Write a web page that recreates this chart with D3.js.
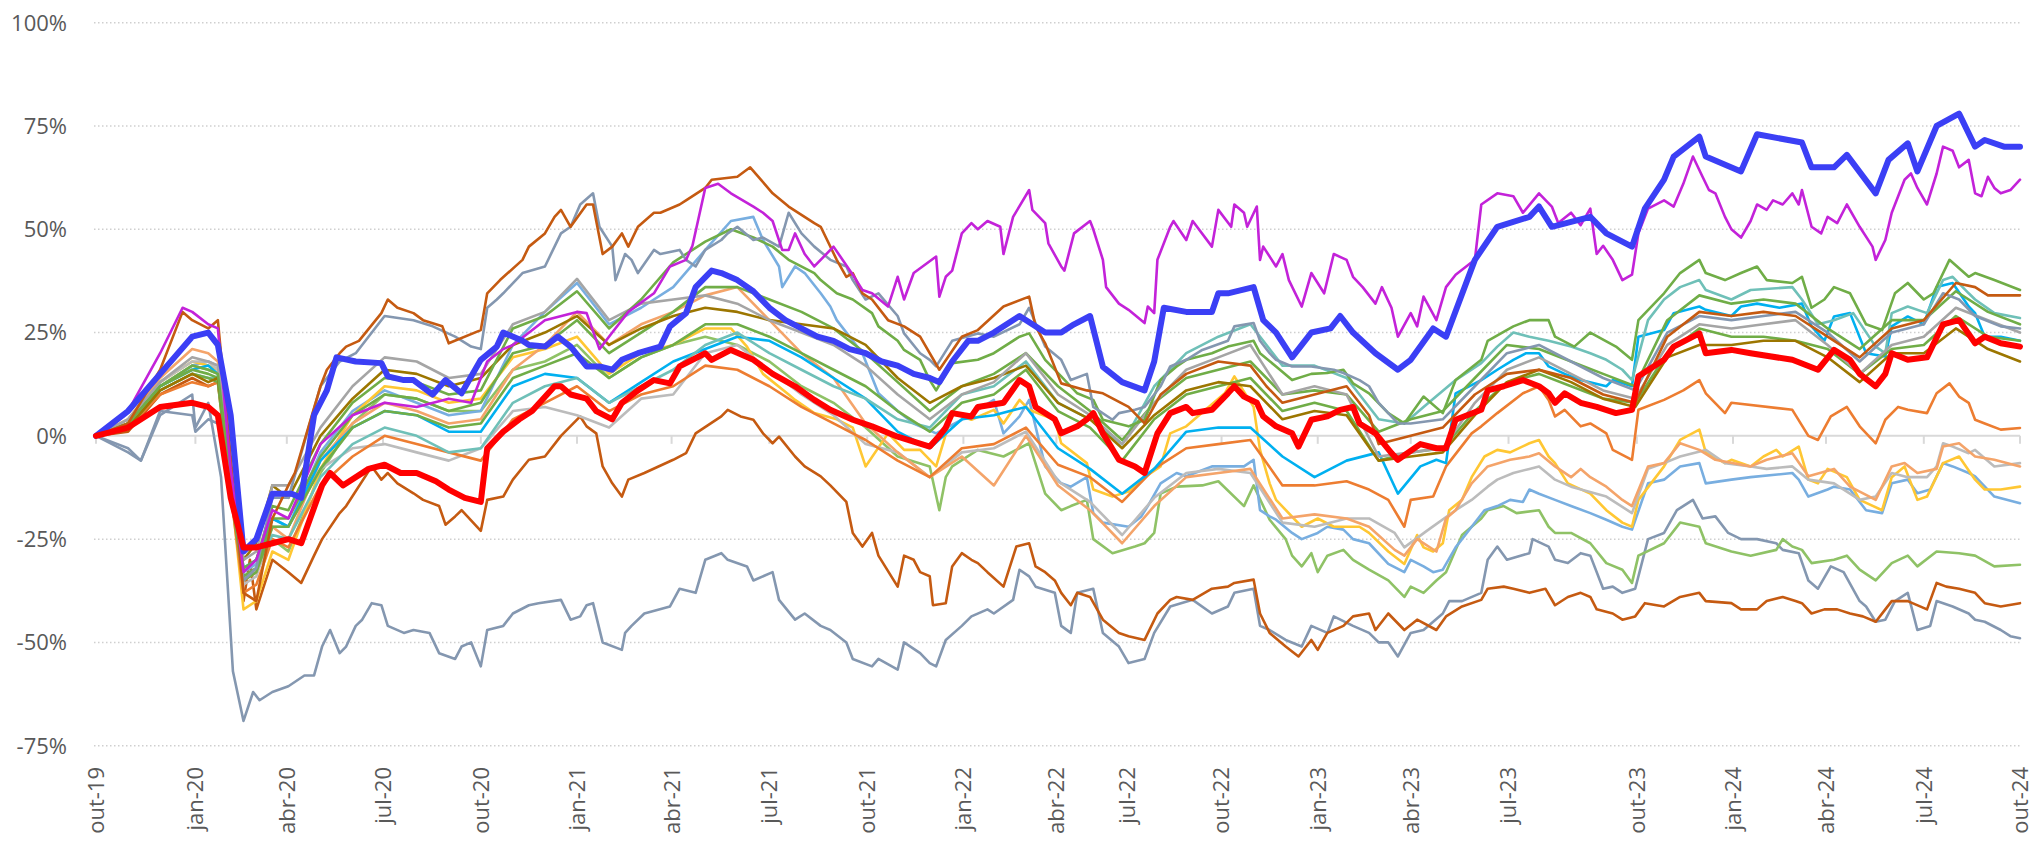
<!DOCTYPE html>
<html>
<head>
<meta charset="utf-8">
<script src="https://cdn.jsdelivr.net/npm/d3@7"></script>
<style>
  body { margin: 0; background: #fff; }
  svg { display: block; font-family: "Open Sans", sans-serif; }
</style>
</head>
<body>
<svg id="chart" width="2034" height="844"></svg>
<script>
// position along the axis, in months of trading sessions from out-19 (one unit = 21 sessions)
var t = [0, 1, 2, 3, 3.5, 3.8, 4.2, 4.6, 5, 5.5, 6, 7, 8, 9, 10, 11, 12, 13, 14, 15,
  16, 17, 18, 19, 20, 21, 22, 23, 24, 25, 26, 27, 28, 29, 30, 31, 32, 33, 34, 35,
  36, 37, 38, 39, 40, 41, 42, 43, 44, 45, 46, 47, 48, 49, 50, 51, 52, 53, 54, 55,
  56, 57, 58, 59, 60];

var tickT = [0, 3.1, 5.95, 8.95, 12, 15, 17.95, 21, 24.05, 27.05, 29.95, 32.15, 35.1, 38.1, 41, 44.05, 48.05, 51.05, 53.95, 57, 60];
var tickLabels = ["out-19", "jan-20", "abr-20", "jul-20", "out-20", "jan-21", "abr-21", "jul-21", "out-21", "jan-22",
  "abr-22", "jul-22", "out-22", "jan-23", "abr-23", "jul-23", "out-23", "jan-24", "abr-24", "jul-24", "out-24"];
var yTicks = [-75, -50, -25, 0, 25, 50, 75, 100];

// series read in more detail: [t, %]
var bluePts = [[0,0],[1,6],[2,15],[3,24],[3.5,25],[3.8,22],[4.2,5],[4.6,-28],[5,-25],[5.5,-14],[6.1,-14],[6.4,-15],
  [6.8,5],[7.2,11],[7.5,19],[8.1,18],[8.9,17.6],[9.1,14.4],[9.6,13.5],[9.9,13.5],[10.5,10],[10.9,13.5],[11.4,10.3],
  [12,18.4],[12.5,21.6],[12.7,25],[13.3,23],[13.5,22],[14,21.6],[14.4,24],[14.8,21.6],[15.3,16.8],[15.7,16.8],[16.1,16],
  [16.4,18.4],[16.9,20],[17.6,21.6],[17.9,26.5],[18.4,29.7],[18.7,36],[19.2,40],[19.5,39.4],[20,37.7],[20.5,35],[21,31],
  [21.5,28],[22,26],[22.5,24],[23,23],[23.5,21],[24,20],[24.5,18],[25,17],[25.5,15],[26,14],[26.3,13],[26.7,18],[27.2,23],
  [27.5,23],[28,25],[28.8,29],[29.6,25],[30.1,25],[30.5,27],[31,29],[31.4,16.7],[32,13],[32.7,11],[33,18],[33.3,31],
  [34,30],[34.8,30],[35,34.5],[35.3,34.5],[36.1,36],[36.4,28],[36.8,25],[37.3,19],[37.9,25],[38.5,26],[38.8,29],[39.2,25],
  [39.9,20],[40.6,16],[41,18.4],[41.7,26],[42.1,24],[43,42.6],[43.7,50.6],[44.7,53],[45,55.5],[45.4,50.6],[46.6,53],
  [47.1,49],[47.9,45.8],[48.3,55],[48.9,62],[49.2,67.6],[50,72.4],[50.2,67.6],[51.3,64],[51.8,73],[53.2,71],[53.5,65],
  [54.2,65],[54.6,68],[55.5,58.7],[55.9,66.8],[56.5,70.8],[56.8,64],[57.4,75],[58.1,78],[58.6,70],[58.9,71.6],[59.5,70],[60,70]];
var redPts = [[0,0],[1,2],[2,7],[3,8],[3.5,7],[3.8,5],[4.2,-15],[4.6,-27],[5,-27],[5.5,-26],[6,-25],[6.4,-26],[7.05,-12],
  [7.3,-9],[7.7,-12],[8.5,-8],[9,-7],[9.5,-9],[10,-9],[10.6,-11],[11,-13],[11.5,-15],[12,-16],[12.2,-3],[12.7,1],[13.2,4],
  [13.6,6],[14.3,12],[14.5,12],[14.8,10],[15.3,9],[15.6,6],[16.1,4],[16.4,8],[16.9,11],[17.4,13.5],[17.9,12.7],[18.2,16.8],
  [19,20],[19.2,18.4],[19.8,20.8],[20.5,18.4],[21.1,15],[21.8,12],[22.4,8.7],[22.9,6.3],[23.6,3.9],[24.2,2.3],[25,-0.2],
  [26,-2.6],[26.3,0],[26.5,2],[26.7,5.5],[27.3,4.7],[27.5,7],[28.3,8],[28.8,13.5],[29.1,12],[29.3,7],[29.9,4],[30.1,0.6],
  [30.6,2.3],[30.9,4],[31.1,5.5],[31.4,0.6],[31.9,-5.8],[32.4,-7.4],[32.7,-9],[33.1,0.6],[33.5,5.5],[34,7],[34.2,5.5],
  [34.8,6.3],[35.3,10.3],[35.5,12],[35.8,9.5],[36.2,8],[36.4,4.7],[36.8,2.3],[37.3,0.6],[37.5,-2.6],[37.9,3.9],[38.4,4.7],
  [38.8,6.3],[39.2,7],[39.4,3],[39.9,0.6],[40.4,-4.2],[40.6,-5.8],[41.3,-2],[41.8,-3],[42.1,-3],[42.4,3.9],[43.2,6.3],
  [43.4,11],[43.9,12],[44.5,13.5],[45,12],[45.3,10.3],[45.5,8],[45.8,10.3],[46.3,8],[46.8,7],[47.4,5.5],[47.9,6.3],
  [48.1,14.4],[48.9,18.4],[49.2,21.6],[50,24.8],[50.2,20],[51,20.8],[51.6,20],[52.9,18.4],[53.7,16],[54.2,20.8],[54.7,18.4],
  [55,15],[55.5,12],[55.8,15],[56,20],[56.5,18.4],[57.1,19],[57.6,27],[58.1,28],[58.6,22.4],[58.9,24],[59.4,22.4],[60,21.6]];
var magentaPts = [[0,0],[1,6],[2,20],[2.7,31],[3,30],[3.5,27],[3.8,26],[4.2,-8],[4.6,-33],[5,-30],[5.5,-18],[6,-20],[7,-2],
  [8,5],[9,8],[10,7],[11,9],[11.7,8],[12.2,18],[12.7,21],[13,22],[14,28],[15,30],[15.3,29.7],[15.7,21],[16.1,25],[16.6,30],
  [17.4,34.5],[17.9,41],[18.4,42.6],[18.6,46],[19,60],[19.4,61],[19.8,58.7],[20.5,55.5],[20.8,54],[21.1,52],[21.4,45],
  [21.6,45],[21.8,49],[22.1,44],[22.4,41],[23,45.8],[23.6,39],[23.9,35.3],[24.2,34.5],[24.7,31.3],[25,38.5],[25.2,33],
  [25.5,39.4],[26.2,43.4],[26.3,33.7],[26.5,38.5],[26.7,40],[27,49],[27.3,51.5],[27.5,50],[27.8,52],[28.2,50.6],[28.3,44],
  [28.6,53],[29.1,59.5],[29.2,54.7],[29.6,51.5],[29.7,46.6],[30.1,41],[30.2,40],[30.5,49],[31,52],[31.1,50],[31.4,42.6],
  [31.5,36],[31.9,32],[32.2,30.5],[32.7,27.3],[32.8,31.3],[33,29.7],[33.1,42.6],[33.5,50.6],[33.6,52],[34,47.4],[34.2,52],
  [34.8,45.8],[35,54.7],[35.4,50.6],[35.5,56],[35.8,54],[35.9,50.6],[36.2,55.5],[36.3,42.6],[36.4,45.8],[36.8,41],[37,44],
  [37.2,37.7],[37.6,31.3],[37.9,39.4],[38.3,34.5],[38.6,44],[39,42.6],[39.2,38.5],[39.5,36],[39.9,32],[40.1,36],[40.4,31],
  [40.6,24],[41,29.7],[41.2,26.5],[41.4,33.7],[41.8,28],[42.1,36],[42.4,39],[43,42.6],[43.2,56],[43.7,58.7],[44.2,58],
  [44.5,54],[45,58.7],[45.4,55.5],[45.6,51.5],[46,54],[46.3,51],[46.6,55],[46.8,44],[47,46],[47.3,42.6],[47.6,37.7],
  [47.9,39],[48.1,49],[48.4,55],[48.9,57],[49.2,55.5],[49.5,61],[49.8,67.6],[50.1,62.7],[50.3,59.5],[50.5,58.7],[50.8,53],
  [51,50],[51.3,48],[51.6,52],[51.8,56],[52.1,54.7],[52.3,57],[52.6,56],[52.9,58.7],[53.1,56],[53.2,59.5],[53.5,50.6],
  [53.8,49],[54,53],[54.3,51.5],[54.6,56],[55,50.6],[55.4,45.8],[55.5,42.6],[55.8,47.4],[56,54],[56.4,62],[56.6,63.5],
  [56.8,60],[57.1,56],[57.4,63.5],[57.6,70],[57.9,69],[58.1,65],[58.4,66.8],[58.6,58.7],[58.8,58],[59,62.7],[59.2,60],
  [59.4,58.7],[59.7,59.5],[60,62]];
var greyBlueBPts = [[0,0],[1,-4],[1.4,-6],[2,5],[3,10],[3.1,2],[3.5,8],[3.9,-10],[4.27,-57],[4.6,-69],[4.9,-62],[5.1,-64],
  [5.5,-62],[6,-60.6],[6.5,-58],[6.8,-58],[7.05,-51],[7.3,-47],[7.6,-52.6],[7.8,-51],[8.1,-46],[8.3,-44.5],[8.6,-40.5],
  [8.9,-41],[9.1,-46],[9.6,-47.7],[9.9,-47],[10.4,-47.7],[10.7,-52.6],[11.2,-54],[11.4,-51],[11.7,-50],[12,-55.8],[12.2,-47],
  [12.7,-46],[13,-43],[13.5,-41],[13.8,-40.5],[14.5,-39.7],[14.8,-44.5],[15.1,-43.7],[15.3,-41],[15.5,-40.5],[15.8,-50],
  [16.4,-51.8],[16.5,-47.7],[16.7,-46],[17.1,-43],[17.9,-41.3],[18.2,-37],[18.7,-38],[19,-30],[19.5,-28.4],[19.7,-30],
  [20.3,-31.6],[20.5,-35],[21.1,-33],[21.3,-39.7],[21.8,-44.5],[22.1,-43],[22.6,-46],[22.9,-47],[23.4,-50],[23.6,-54],
  [24.2,-55.8],[24.4,-54],[25,-56.6],[25.2,-50],[25.7,-52.6],[26,-55],[26.2,-55.8],[26.5,-49.4],[27,-46],[27.3,-43.7],
  [27.8,-42],[28,-43],[28.6,-39.7],[28.8,-32.4],[29.1,-34],[29.3,-36.5],[29.9,-38],[30.1,-46],[30.4,-47.7],[30.6,-38],
  [31.1,-37],[31.4,-47.7],[31.9,-51],[32.2,-55],[32.7,-54],[33,-47.7],[33.5,-41.3],[34.2,-39.7],[34.8,-43],[35.3,-41.3],
  [35.5,-38],[36.1,-37],[36.3,-46],[36.6,-47],[37.1,-49.4],[37.6,-51],[37.9,-46],[38.4,-47.7],[38.6,-43.7],[39.2,-46],
  [39.7,-47.7],[40,-50],[40.3,-50],[40.6,-53.4],[41,-47.7],[41.4,-47],[42,-43],[42.2,-40],[42.6,-40],[43.2,-38],[43.4,-30],
  [43.7,-26.8],[44,-30],[44.7,-28.4],[44.8,-25],[45.3,-26.8],[45.5,-30],[45.9,-30.8],[46.3,-28.4],[46.6,-29],[47,-37],
  [47.3,-36.5],[47.6,-38],[48,-37],[48.4,-25],[48.9,-23.5],[49.3,-18],[49.8,-15.5],[50.1,-20],[50.5,-19.5],[50.9,-23.5],
  [51.3,-25],[51.8,-25],[52.4,-26],[52.6,-27.6],[53.1,-28.4],[53.4,-35],[53.7,-37],[54.1,-31.6],[54.5,-33],[55,-40],
  [55.2,-41.3],[55.5,-45],[55.8,-44.5],[56.1,-40],[56.5,-38],[56.8,-47],[57.2,-46],[57.4,-40],[57.9,-41.3],[58.4,-43],
  [58.6,-44.5],[58.9,-45],[59.4,-47],[59.7,-48.5],[60,-49]];
var darkOrangeBPts = [[0,0],[1,1],[2,10],[2.5,12],[3,14],[3.5,12],[3.8,13],[4.2,-10],[4.6,-40],[4.8,-30],[5,-42],[5.5,-30],
  [6,-33],[6.4,-35.6],[6.8,-29],[7.05,-25],[7.6,-18.7],[7.8,-17],[8.6,-7.4],[8.9,-10.6],[9.1,-9],[9.4,-11.5],[9.9,-13.9],
  [10.2,-15.5],[10.7,-17],[10.9,-21.5],[11.2,-19.5],[11.4,-18],[12,-23],[12.2,-15.5],[12.7,-14.7],[13,-10.6],[13.5,-5.8],
  [14,-5],[14.5,0],[15.1,4.7],[15.3,2.3],[15.6,0.6],[15.8,-7.4],[16.1,-11.5],[16.4,-14.7],[16.6,-10.6],[17.1,-9],[18,-5.8],
  [18.4,-4.2],[18.7,0.6],[19.5,4.7],[19.7,6.3],[20.1,4.7],[20.5,3.9],[20.8,0.6],[21.1,-1.8],[21.3,-0.2],[21.8,-5],[22.1,-7.4],
  [22.6,-9.8],[22.9,-12],[23.4,-16],[23.6,-23.5],[23.9,-26.8],[24.2,-23.5],[24.4,-29],[25,-36.5],[25.2,-29],[25.5,-30],
  [25.7,-33],[26,-34],[26.1,-41],[26.5,-40.5],[26.7,-31.6],[27,-28.4],[27.3,-30],[27.5,-30.8],[27.8,-33],[28.3,-36.5],
  [28.7,-26.8],[29.1,-26],[29.3,-31.6],[29.6,-33],[29.9,-35],[30.1,-38],[30.4,-41],[30.6,-38],[31,-39],[31.4,-44.5],
  [31.9,-47.7],[32.2,-48.5],[32.7,-49.4],[33.1,-43],[33.5,-39.7],[33.7,-39],[34.2,-39.7],[34.8,-37],[35.3,-36.5],[35.5,-35.6],
  [36.1,-34.8],[36.3,-43],[36.6,-47.7],[37.1,-51],[37.5,-53.4],[37.9,-49.4],[38.1,-51.8],[38.4,-47.7],[38.9,-46],[39.2,-43.7],
  [39.7,-43],[39.9,-47],[40.3,-43],[40.8,-47],[41.2,-44.5],[41.8,-47],[42.1,-43.7],[42.6,-41.3],[43.2,-39.7],[43.4,-37],
  [43.9,-36.5],[44.2,-37],[44.7,-38],[45.2,-37],[45.5,-41],[45.9,-39],[46.3,-38],[46.6,-39],[46.8,-42],[47.3,-43],[47.6,-44.5],
  [48,-43.7],[48.3,-40.5],[48.9,-41.3],[49.4,-39],[50,-38],[50.2,-40],[51,-40.5],[51.3,-42],[51.8,-42],[52.1,-40],[52.6,-39],
  [53,-40],[53.2,-40.5],[53.5,-43],[53.9,-42],[54.3,-42],[54.7,-43],[55.1,-43.7],[55.5,-45],[55.8,-42],[56,-40],[56.5,-40],
  [57.1,-42],[57.4,-35.6],[57.7,-36.5],[58.1,-37],[58.6,-38],[58.9,-40.5],[59.4,-41.3],[60,-40.5]];
var darkOrangeAPts = [[0,0],[1,3],[2,16],[2.7,30],[3,28],[3.5,26],[3.8,28],[4.2,-5],[4.6,-38],[5,-40],[5.5,-20],[6,-12],
  [6.2,-9],[7,12],[7.2,16],[7.6,20],[7.8,21.6],[8.2,23],[8.9,29.7],[9.1,33],[9.4,31],[9.9,29.7],[10.2,28],[10.8,26.5],[11,22.4],
  [12,25.6],[12.2,34.5],[12.6,37.7],[13.3,42.6],[13.5,45.8],[14,49],[14.3,53],[14.5,54.7],[14.8,50.6],[15.3,56],[15.5,56],
  [15.8,44],[16.1,45.8],[16.4,49],[16.6,45.8],[16.9,50.6],[17.4,54],[17.6,54],[18.2,56],[18.4,57],[19,60],[19.2,62],[20,62.7],
  [20.4,65],[21.1,58.7],[21.6,55.5],[22.4,51.5],[22.6,50.6],[23.1,42.6],[23.4,38.5],[23.6,39.4],[23.9,34.5],[24.2,33],[24.7,28],
  [25.2,26.5],[25.7,24],[26.3,16],[27,24],[27.5,25.6],[28.3,31.3],[29.1,33.7],[29.3,26.5],[29.6,22.4],[30.1,12.7],[30.9,11],
  [31.4,10.3],[32.2,7],[32.7,3],[33.2,10],[34,15],[35,18],[36,17],[36.5,12],[37,8],[38,10],[39,12],[39.7,5],[40,-2],[41,0],
  [42,2],[43,10],[44,15],[45,16],[46,14],[47,10],[48,8],[49,24],[50,30],[51,29],[52,30],[53,29],[54,24],[55,19],[56,26],
  [57,28],[58,37],[58.6,36],[59,34],[60,34]];
var greyBlueAPts = [[0,0],[1,-3],[1.4,-6],[2,6],[3,5],[3.1,1],[3.5,4],[3.8,3],[4.2,-10],[4.6,-35],[5,-32],[5.5,-15],[6,-15],
  [7,12],[7.6,18],[8.1,20],[9,29],[9.9,28],[10.5,26.5],[11.2,24],[11.7,21.6],[12,21],[12.2,31],[12.5,33],[12.7,34.5],[13.3,39.4],
  [14,41],[14.5,49],[14.8,50.6],[15.1,56],[15.5,58.7],[15.7,50.6],[16.1,45.8],[16.2,37.7],[16.5,44],[16.7,42.6],[16.9,39.4],
  [17.4,45],[17.6,44],[18.2,45],[18.4,42.6],[18.7,41],[19,45],[19.5,47.4],[19.7,49],[20,50.6],[20.5,47.4],[20.8,48],
  [21.3,45.8],[21.6,54],[22,49],[22.4,45.8],[22.9,42.6],[23.4,41],[23.6,37.7],[24,33],[24.4,34.5],[25,29],[25.2,24.8],[25.7,20],
  [26,18.4],[26.2,16.8],[26.7,23],[27.5,24.8],[28,24],[28.8,27],[29.1,31],[29.6,21.6],[30.1,18.4],[30.4,13.5],[30.9,15],
  [31.1,7],[31.7,3.9],[31.9,5.5],[32.4,6.3],[32.7,7],[33.2,12],[33.5,16.8],[34,18.4],[34.5,20.8],[35.3,23],[35.5,26.5],
  [36.1,27.3],[36.3,23],[36.6,20],[36.8,18.4],[37.3,16.8],[37.9,16.8],[38.6,16],[38.9,15.2],[39.4,13.5],[39.7,12],[40,8],
  [40.6,3],[41,3],[42,4],[43,12],[44,20],[45,22],[46,18],[47,14],[48,11],[49,25],[50,29],[51,28],[52,29],[53,30],[54,25],
  [55,18],[56,25],[57,27],[57.6,34.5],[58.1,33],[58.6,29],[59.4,26.5],[60,26]];
var greenAPts = [[0,0],[1,3],[2,12],[3,17],[3.5,16],[3.8,15],[4.2,-10],[4.6,-32],[5,-30],[5.5,-17],[6,-18],[7,-2],[8,8],[9,14],
  [10,13],[11,10],[12,11],[13,26],[14,29],[15,35],[16,26],[17,33],[18,42],[19,47],[19.8,50],[20.5,48],[21.1,45.8],[21.6,42.6],
  [22.4,39.4],[22.6,37.7],[23.1,34.5],[23.6,33],[24.2,29.7],[24.4,26.5],[25,23],[25.2,20.8],[25.7,18.4],[26,13.5],[26.2,11],
  [26.7,17.6],[27.5,18.4],[28,20],[28.8,24],[29.1,24.8],[29.6,18.4],[30.1,14.4],[30.6,10.3],[31.1,8.7],[31.4,3.9],[32.2,2.3],
  [32.7,3.9],[33.2,13.5],[33.7,16.8],[34,18.4],[34.8,20],[35.3,21.6],[36.1,23],[36.3,20],[36.8,16.8],[37.3,13.5],[37.9,15],
  [38.4,15.2],[38.9,16],[39.2,12.7],[39.7,10.3],[40.3,5.5],[40.8,3],[41.4,9.5],[42,5.5],[42.4,13.5],[43.2,18.4],[43.4,23],
  [44.2,26.5],[44.7,28],[45.3,28],[45.5,24],[46.1,21.6],[46.6,25],[47.4,21.6],[47.9,18.4],[48.1,28],[48.9,34.5],[49.4,39.4],
  [50,42.6],[50.2,39.4],[50.8,37.7],[51.3,39.4],[51.8,41],[52.1,37.7],[52.9,37],[53.2,38.5],[53.5,31],[53.9,33],[54.2,36],
  [54.7,34.5],[55.2,27],[55.7,25.6],[56.1,34.5],[56.5,37],[57,33],[57.3,34.5],[57.8,42.6],[58.4,38.5],[58.6,39.4],[59.2,37.7],
  [60,35.3]];
var tealPts = [[0,0],[1,3],[2,11],[3,15],[3.5,14],[3.8,14],[4.2,-12],[4.6,-34],[5,-32],[5.5,-24],[6,-25],[7,-10],[8,-2],[9,2],
  [10,0],[11,-4],[12,-3],[13,8],[14,12],[15,14],[16,8],[17,12],[18,16],[19,22],[20,25],[21,20],[22,16],[23,12],[24,9],[25,4],
  [26,2],[27,10],[28,12],[29,18],[30,8],[31,4],[32,-2],[33,12],[34,20],[35,24],[36,27],[37,17],[38,17],[39,14],[40,4],[40.8,3],
  [41.4,7],[42.4,13.5],[43.2,17.6],[43.7,21.6],[44.2,25],[44.7,24],[45.3,23],[46,21.6],[46.6,20],[47.1,18.4],[47.6,16],
  [47.9,13.5],[48.4,28],[48.9,33],[49.4,36],[50,37.7],[50.2,35.3],[51,33],[51.6,35.3],[52.9,36],[53.2,33],[53.7,27],[54.2,28],
  [54.8,29.7],[55.5,21.6],[55.8,20],[56,29.7],[56.5,31.3],[57.1,29.7],[57.6,37.7],[57.9,38.5],[58.4,34.5],[58.6,33],[59.2,29.7],
  [60,28.5]];
var cyanPts = [[0,0],[1,3],[2,12],[3,16],[3.5,17],[3.8,15],[4.2,-10],[4.6,-32],[5,-30],[5.5,-20],[6,-22],[7,-6],[8,2],[9,6],
  [10,5],[11,1],[12,1],[13,12],[14,15],[15,14],[16,8],[17,13],[18,18],[19,21],[20,24],[21,23],[22,19],[23,14],[24,9],[25,1],
  [26,-3],[27,4],[28,5],[29,7],[30,-3],[31,-8],[32,-14],[33,-8],[34,1],[35,2],[36,2],[37,-5],[38,-10],[39,-6],[40,-4],[40.6,-14],
  [41.3,-7.4],[41.8,-5.8],[42.1,-6.6],[42.4,10.3],[43.2,13.5],[43.7,16],[44.2,18.4],[44.6,20],[45,20],[45.3,16.8],[45.8,15],
  [46.3,13.5],[47.1,12],[47.3,13.5],[47.9,12],[48.1,24],[48.9,25.6],[49.2,29.7],[50,31.3],[50.2,30.5],[51,29],[51.3,31.3],
  [51.8,32],[52.5,31],[53.2,32],[53.5,26.5],[53.9,23],[54.2,28.9],[54.7,29.7],[55.2,20],[55.8,19.2],[56,26.5],[56.5,28.9],
  [57,27],[57.4,36],[57.9,37],[58.4,31.3],[58.6,29.7],[58.9,24],[59.4,24],[60,23]];
var orangePts = [[0,0],[1,2],[2,10],[3,13],[3.5,12],[3.8,13],[4.2,-14],[4.6,-38],[5,-36],[5.5,-25],[6,-27],[7,-12],[8,-5],[9,0],
  [10,-2],[11,-4],[12,-6],[13,4],[14,8],[15,12],[16,6],[17,10],[18,12],[19,17],[20,16],[21,12],[22,7],[23,3],[24,-1],[25,-6],
  [26,-10],[27,-3],[28,-2],[29,2],[30,-7],[31,-10],[32,-16],[33,-8],[34,-3],[35,-2],[36,-1],[37,-12],[38,-12],[39,-11],
  [39.7,-13],[40.3,-15.5],[40.8,-22],[41,-15.5],[41.7,-14.7],[42.1,-7.4],[42.9,0.6],[43.2,2.3],[43.7,5.5],[44.5,10.3],[45,12],
  [45.3,8.7],[45.5,4.7],[45.8,6.3],[46.3,2.3],[46.6,3],[47.1,0.6],[47.3,-3.4],[47.9,-5.8],[48.1,6.3],[48.9,8.7],[49.5,11],
  [50,13.5],[50.2,10.3],[50.8,5.5],[51,8],[52.9,6.3],[53.4,0],[53.7,-1],[54.1,4.7],[54.6,7],[55,2.3],[55.5,-1.8],[55.8,3.9],
  [56.2,7],[56.5,6.3],[57.1,5.5],[57.4,10.3],[57.8,12.7],[58.1,9.5],[58.4,8],[58.6,3.9],[58.9,3],[59.4,1.5],[60,1.9]];
var yellowPts = [[0,0],[1,4],[2,13],[3,18],[3.5,17],[3.8,16],[4.2,-12],[4.6,-42],[5,-40],[5.5,-28],[6,-30],[7,-8],[8,5],[9,12],
  [10,11],[11,8],[12,9],[13,19],[14,21],[15,24],[16,15],[17,20],[18,22],[19,26],[19.8,26],[20.3,21.6],[20.8,15],[21.6,10],
  [21.8,8.7],[22.4,5.5],[23.1,4],[23.6,2],[24,-7.4],[24.7,0.6],[25.2,-3.4],[25.7,-3.4],[26.2,-7.4],[26.7,5.5],[27.3,3.9],
  [28,6.3],[28.3,3],[28.8,8.7],[29.1,6.3],[29.9,3.9],[30.1,-1.8],[30.9,-6.6],[31.1,-13],[31.7,-14.7],[32.2,-13.5],[32.7,-10],
  [33.2,-7.4],[33.5,0.6],[34,2.3],[35.2,10.3],[35.5,14.4],[36.1,7],[36.3,-3.4],[36.6,-11.5],[36.8,-15.5],[37.6,-22],[38.1,-20],
  [38.6,-22],[39.4,-22],[39.7,-23.5],[40.3,-28],[40.8,-31],[41.2,-24],[41.4,-27],[41.7,-28],[42,-26],[42.2,-18],[42.6,-15.5],
  [42.9,-10],[43.3,-5],[43.7,-3.4],[44.1,-4],[44.7,-1.8],[45,-1],[45.3,-5],[45.5,-6.6],[45.9,-11.5],[46.6,-14],[47.1,-18],
  [47.6,-21],[47.9,-22],[48.1,-15.5],[48.9,-7.4],[49.4,-1],[50,1.5],[50.2,-4],[50.8,-6.6],[51,-5.8],[51.6,-7.4],[52,-5],
  [52.4,-3.4],[52.6,-5],[53.1,-2.6],[53.4,-10.6],[53.7,-11.5],[54,-8],[54.6,-10],[55,-15.5],[55.7,-18],[56,-10],[56.4,-7.4],
  [56.8,-15.5],[57.1,-14.7],[57.6,-6.6],[58.1,-5],[58.6,-10.6],[58.9,-13],[59.4,-13],[60,-12.3]];
var lightOrangePts = [[0,0],[1,4],[2,14],[3,21],[3.5,20],[3.8,18],[4.2,-10],[4.6,-35],[5,-33],[5.5,-22],[6,-25],[7,-6],[8,3],
  [9,8],[10,6],[11,3],[12,4],[13,16],[14,22],[15,30],[16,22],[17,27],[18,30],[19,34],[20,36],[21,28],[22,20],[23,14],[24,3],
  [25,-4],[26,-10],[27,-5],[28,-12],[29,0],[30,-12],[31,-18],[32,-26],[33,-17],[34,-10],[35,-9],[36,-8],[37,-20],[38,-19],
  [39,-20],[39.7,-22],[40.5,-27.6],[40.8,-29],[41.2,-25],[41.8,-28],[42.1,-20],[42.4,-18],[42.9,-11.5],[43.4,-7.4],[44.1,-5.8],
  [44.7,-5],[45,-4.2],[45.5,-7.4],[46,-10],[46.3,-8],[46.6,-10],[47.1,-12.3],[47.6,-15.5],[47.9,-17],[48.4,-7.4],[48.9,-6.6],
  [49.4,-1.8],[50,-3.4],[50.5,-5.8],[51.6,-7.4],[52.1,-5.8],[52.9,-4.2],[53.4,-9.8],[54.2,-8],[54.7,-12.3],[55.5,-15.5],
  [56,-7.4],[56.4,-6.6],[56.8,-9],[57.4,-8],[57.6,-2.6],[58.1,-1.8],[58.6,-5],[59.2,-5.8],[60,-7.4]];
var lightGreyPts = [[0,0],[1,4],[2,13],[3,18],[3.5,18],[3.8,16],[4.2,-12],[4.6,-36],[5,-34],[5.5,-22],[6,-22],[7,-8],[8,-3],
  [9,-2],[10,-4],[11,-6],[12,-3],[13,6],[14,7],[15,5],[16,2],[17,9],[18,10],[19,20],[20,22],[21,16],[22,10],[23,5],[24,-2],
  [25,-4],[26,-10],[27,-4],[28,-3],[29,1],[30,-11],[31,-16],[32,-24],[33,-15],[34,-9],[35,-8],[36,-9],[37,-21],[38,-22],
  [39,-20],[39.7,-20],[40.5,-23.5],[40.8,-27],[41.5,-23],[42.4,-18],[42.9,-15.5],[43.4,-12.3],[43.7,-10.6],[44.2,-9],[44.7,-8],
  [45,-7.4],[45.5,-10.6],[46,-12.3],[47.1,-14.7],[47.9,-18.7],[48.4,-8],[48.9,-6.6],[49.4,-5],[50.2,-3.4],[50.8,-6.6],
  [51.6,-7.4],[52.1,-8],[52.9,-7.4],[53.4,-10.6],[54.2,-11.5],[55,-15.5],[55.5,-14.7],[56,-9],[56.5,-10],[57.1,-10],[57.4,-7.4],
  [57.6,-1.8],[57.9,-2.6],[58.4,-4.2],[58.6,-3.4],[59.2,-7.4],[60,-6.6]];
var lightBluePts = [[0,0],[1,3],[2,12],[3,17],[3.5,18],[3.8,17],[4.2,-10],[4.6,-33],[5,-31],[5.5,-20],[6,-22],[7,-4],[8,6],
  [9,11],[10,8],[11,5],[12,6],[13,22],[14,30],[15,37],[16,27],[17,31],[18,36],[19,45],[19.8,52],[20.5,53],[20.8,47.4],[21.3,41],
  [21.4,36],[21.8,41],[22.1,39.4],[22.6,34.5],[22.9,31.3],[23.1,28],[23.6,23],[23.9,20],[24.4,10.3],[25,6],[25.5,3],[26.2,0.6],
  [27,3.9],[27.5,6.3],[28,8.7],[28.3,0.6],[28.8,4.7],[29.1,8.7],[29.6,-7.4],[30.1,-11.5],[30.4,-12.3],[30.9,-10],[31.1,-18.7],
  [31.4,-21],[32.2,-22],[32.6,-19.5],[32.8,-17],[33.2,-11.5],[33.7,-9],[34,-9.8],[34.8,-7.4],[35.8,-7.4],[36.1,-5.8],[36.3,-18],
  [36.6,-19.5],[36.8,-20.3],[37.3,-23.5],[37.6,-25],[38.1,-23.5],[38.4,-22],[38.9,-22.7],[39.2,-25],[39.7,-26],[40.3,-31],
  [40.8,-33],[41,-30],[41.4,-31.6],[41.7,-33],[42,-32.4],[42.4,-27],[42.9,-22],[43.3,-18],[43.7,-17],[44.1,-15.5],[44.5,-16],
  [44.7,-13],[45,-14],[45.5,-15.5],[46,-17],[46.6,-18.7],[47.1,-20.3],[47.6,-22],[47.9,-22.7],[48.4,-11.5],[48.9,-10.6],
  [49.4,-7.4],[50,-6.6],[50.2,-11.5],[51,-10.6],[51.6,-10],[52.9,-9],[53.1,-10.6],[53.4,-14.7],[54,-13],[54.2,-12.3],[54.7,-13],
  [55.2,-18],[55.7,-18.7],[56,-11.5],[56.5,-10.6],[56.8,-13.9],[57.2,-13],[57.6,-6.6],[57.9,-7.4],[58.4,-9],[58.6,-9.8],
  [59.2,-14.7],[60,-16.3]];
var lightGreenPts = [[0,0],[1,3],[2,12],[3,17],[3.5,16],[3.8,15],[4.2,-12],[4.6,-35],[5,-33],[5.5,-25],[6,-28],[7,-9],[8,3],
  [9,10],[10,9],[11,6],[12,6],[13,16],[14,18],[15,22],[16,14],[17,19],[18,22],[19,24],[20,22],[21,18],[22,12],[23,8],[24,2],
  [25,-5],[26,-7.4],[26.3,-18],[26.5,-10],[26.7,-7.4],[27.5,-3.4],[28.3,-5],[29.1,-1.8],[29.6,-14],[30.1,-18],[30.4,-17],
  [30.9,-15.5],[31.1,-25],[31.7,-28.4],[32.4,-26.8],[32.7,-26],[33,-23.5],[33.2,-14],[33.7,-12.3],[34.5,-12],[35,-11],[35.8,-17],
  [36.1,-12],[36.6,-20.3],[37.1,-25],[37.3,-29],[37.6,-31.6],[37.9,-28.4],[38.1,-33],[38.4,-29],[38.9,-27.6],[39.2,-30],
  [39.7,-32.4],[40.3,-35],[40.8,-39],[41,-36.5],[41.4,-38],[41.8,-35],[42.1,-33],[42.6,-24],[43.2,-20],[43.4,-18],[43.9,-17],
  [44.3,-18.7],[45,-18],[45.3,-22],[45.5,-23.5],[46,-23.5],[46.6,-26],[47.1,-30.8],[47.6,-32.4],[47.9,-35.6],[48.1,-29],
  [48.9,-26],[49.4,-21],[50,-22],[50.2,-26],[51,-28],[51.6,-29],[52.4,-27.6],[52.6,-25],[52.9,-26.8],[53.2,-27.6],[53.5,-30.8],
  [54.2,-30],[54.6,-29],[55,-32.4],[55.5,-35],[56,-30.8],[56.5,-29],[56.8,-31.6],[57.4,-28],[58.1,-28.4],[58.6,-29],
  [59.2,-31.6],[60,-31.2]];

// monthly series, aligned with t
var grey = [0, 4, 13, 19, 18, 17, -8, -30, -28, -12,
  -12, 2, 12, 19, 18, 14, 15, 27, 30, 38, 28, 32, 33, 34, 32,
  28, 25, 22, 17, 10, 4, 10, 13, 20, 10, 5, -2, 8, 16, 19, 22, 10, 12, 10, -5,
  -4, -3, 8, 16, 19, 15, 11, 9, 22, 27, 26, 27, 28, 22, 15, 22, 24, 31, 28, 25];
var olive = [0, 2, 11, 15, 13, 14, -8, -30, -26, -12,
  -15, 0, 9, 16, 15, 12, 14, 22, 25, 29, 22, 26, 29, 31, 30,
  28, 27, 26, 22, 14, 8, 12, 14, 17, 8, 4, -3, 5, 11, 13, 12, 4, 6, 5, -6,
  -5, -4, 5, 13, 16, 13, 9, 7, 19, 22, 22, 23, 23, 19, 13, 20, 20, 26, 21, 18];
var greenB = [0, 3, 12, 16, 15, 14, -12, -34, -32, -20,
  -20, -5, 5, 10, 9, 6, 8, 20, 22, 28, 20, 25, 30, 36, 36,
  33, 30, 26, 20, 13, 6, 12, 15, 20, 12, 6, -1, 8, 14, 16, 18, 10, 11, 10, 1,
  4, 6, 14, 22, 21, 18, 15, 12, 28, 34, 32, 33, 32, 26, 21, 28, 28, 35, 30, 27];
var greenC = [0, 2, 11, 15, 14, 13, -14, -35, -33, -22,
  -22, -8, 2, 6, 5, 2, 3, 14, 17, 20, 14, 19, 22, 27, 27,
  24, 20, 16, 12, 6, 1, 8, 10, 16, 6, 2, -6, 4, 10, 12, 14, 6, 8, 6, -6,
  -4, -3, 6, 13, 15, 12, 9, 8, 20, 26, 24, 24, 23, 21, 15, 21, 22, 29, 24, 23];

function monthly(values) {
  return values.map(function(v, i) { return [t[i], v]; });
}

// drawing order, back to front
var series = [
  { points: greyBlueBPts, color: "#8497b0", width: 2.6 },
  { points: darkOrangeBPts, color: "#c55a11", width: 2.6 },
  { points: lightGreenPts, color: "#8fc266", width: 2.6 },
  { points: lightBluePts, color: "#78aee0", width: 2.6 },
  { points: yellowPts, color: "#ffc733", width: 2.6 },
  { points: lightGreyPts, color: "#bcbcbc", width: 2.6 },
  { points: lightOrangePts, color: "#f4a46a", width: 2.6 },
  { points: orangePts, color: "#ed7d31", width: 2.6 },
  { points: cyanPts, color: "#00b0f0", width: 2.6 },
  { points: tealPts, color: "#6fc0b8", width: 2.6 },
  { points: monthly(greenC), color: "#70ad47", width: 2.6 },
  { points: monthly(greenB), color: "#70ad47", width: 2.6 },
  { points: monthly(olive), color: "#9c7600", width: 2.6 },
  { points: monthly(grey), color: "#a5a5a5", width: 2.6 },
  { points: greenAPts, color: "#70ad47", width: 2.6 },
  { points: greyBlueAPts, color: "#8497b0", width: 2.6 },
  { points: darkOrangeAPts, color: "#c55a11", width: 2.6 },
  { points: magentaPts, color: "#c322d9", width: 2.6 },
  { points: bluePts, color: "#3b3ff5", width: 6 },
  { points: redPts, color: "#ff0000", width: 6 }
];

var svg = d3.select("#chart");

var x = d3.scaleLinear().domain([0, 60]).range([96, 2020]);
var y = d3.scaleLinear().domain([-75, 100]).range([745.7, 22.7]);

// dotted gridlines
svg.append("g").selectAll("line")
  .data(yTicks.filter(function(d) { return d !== 0; }))
  .enter().append("line")
    .attr("x1", 94).attr("x2", 2020)
    .attr("y1", function(d) { return y(d); })
    .attr("y2", function(d) { return y(d); })
    .attr("stroke", "#cfcfcf")
    .attr("stroke-width", 1.5)
    .attr("stroke-dasharray", "1.5,2.5");

// y labels
svg.append("g").selectAll("text")
  .data(yTicks)
  .enter().append("text")
    .attr("x", 67)
    .attr("y", function(d) { return y(d); })
    .attr("dy", "0.36em")
    .attr("text-anchor", "end")
    .attr("fill", "#595959")
    .style("font-size", "22px")
    .text(function(d) { return d + "%"; });

// zero axis with ticks
var axis = svg.append("g");
axis.append("line")
  .attr("x1", 94).attr("x2", 2020)
  .attr("y1", y(0)).attr("y2", y(0))
  .attr("stroke", "#d9d9d9").attr("stroke-width", 2);
axis.selectAll("line.tick")
  .data(tickT)
  .enter().append("line")
    .attr("class", "tick")
    .attr("x1", function(d) { return x(d); })
    .attr("x2", function(d) { return x(d); })
    .attr("y1", y(0)).attr("y2", y(0) + 8)
    .attr("stroke", "#d9d9d9").attr("stroke-width", 2);

// x labels, rotated
svg.append("g").selectAll("text")
  .data(tickT)
  .enter().append("text")
    .attr("transform", function(d) { return "translate(" + x(d) + ",767) rotate(-90)"; })
    .attr("dy", "0.36em")
    .attr("text-anchor", "end")
    .attr("fill", "#595959")
    .style("font-size", "22px")
    .text(function(d, i) { return tickLabels[i]; });

var line = d3.line()
  .x(function(d) { return x(d[0]); })
  .y(function(d) { return y(d[1]); });

svg.append("g").selectAll("path")
  .data(series)
  .enter().append("path")
    .attr("d", function(s) { return line(s.points); })
    .attr("fill", "none")
    .attr("stroke", function(s) { return s.color; })
    .attr("stroke-width", function(s) { return s.width; })
    .attr("stroke-linejoin", "round")
    .attr("stroke-linecap", "round");
</script>
</body>
</html>
